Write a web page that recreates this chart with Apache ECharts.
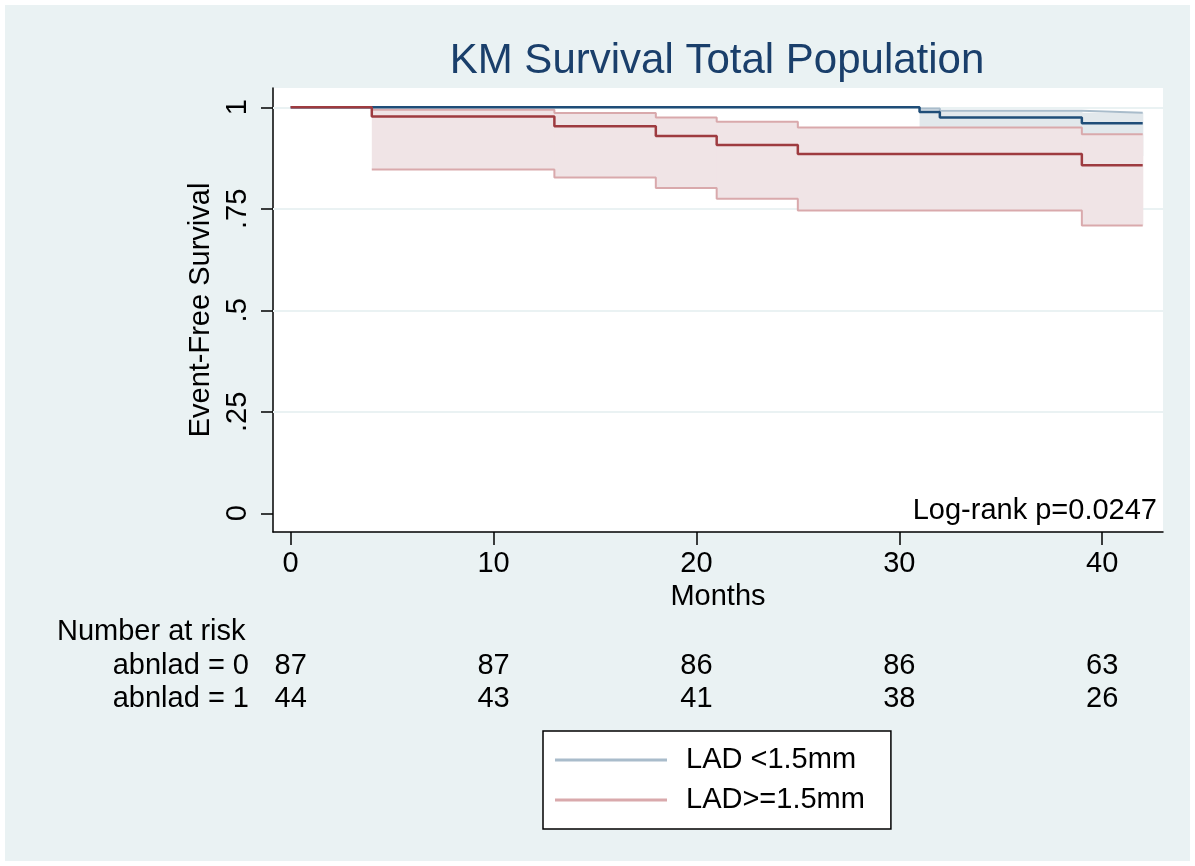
<!DOCTYPE html>
<html>
<head>
<meta charset="utf-8">
<script src="https://cdn.jsdelivr.net/npm/echarts@6/dist/echarts.min.js"></script>
<style>
html,body{margin:0;padding:0;background:#fff;}
#bg{position:absolute;left:5px;top:5px;width:1185px;height:856px;background:#eaf2f3;}
#main{position:absolute;left:0;top:0;width:1195px;height:866px;}
</style>
</head>
<body>
<div id="bg"></div>
<div id="main"></div>
<script>
// ---- data ----
const titleText = 'KM Survival Total Population';
const xTicks = [0, 10, 20, 30, 40];
const yTicks = [0, 0.25, 0.5, 0.75, 1];
const groupNames = ['LAD <1.5mm', 'LAD>=1.5mm'];

// group 0 (abnlad = 0)
const months0 = [0, 31, 32, 39, 42];
const surv0 = [1, 0.9885, 0.9746, 0.9606, 0.9606];
const ciMonths0 = [31, 32, 39, 42];
const ciLow0 = [0.92, 0.905, 0.88, 0.88];
const ciUp0 = [0.997, 0.9916, 0.9867, 0.9867];

// group 1 (abnlad = 1)
const months1 = [0, 4, 13, 18, 21, 25, 39, 42];
const surv1 = [1, 0.977, 0.953, 0.929, 0.907, 0.885, 0.857, 0.857];
const ciMonths1 = [4, 13, 18, 21, 25, 39, 42];
const ciLow1 = [0.847, 0.827, 0.801, 0.775, 0.746, 0.709, 0.709];
const ciUp1 = [0.994, 0.986, 0.975, 0.9645, 0.950, 0.9335, 0.9335];

// number at risk
const riskRows = ['abnlad = 0', 'abnlad = 1'];
const riskTimes = [0, 10, 20, 30, 40];
const risk0 = [87, 87, 86, 86, 63];
const risk1 = [44, 43, 41, 38, 26];

const logRankText = 'Log-rank p=0.0247';

// ---- styles ----
const FONT = '"Liberation Sans", Arial, Helvetica, sans-serif';
const FS = 29;
const blue = '#1f4d78', red = '#9e3b40';
const blueCI = '#a9bccb', redCI = '#d9a9ac';
const blueFill = '#e2e8ec', redFill = '#f0e4e6';
const xMin = -0.87, xMax = 43;
const yMin = -0.0461, yMax = 1.0475;

const pairs = (xs, ys) => xs.map((x, i) => [x, ys[i]]);

const chart = echarts.init(document.getElementById('main'), null, {renderer: 'canvas'});

function bandSeries(name, xs, lo, up, fill, z) {
  const data = [];
  for (let i = 0; i < xs.length - 1; i++) data.push([xs[i], xs[i + 1], lo[i], up[i]]);
  return {
    name: name + ' band', type: 'custom', silent: true, z: z,
    encode: {x: [0, 1], y: [2, 3]},
    data: data,
    renderItem: function (params, api) {
      const p1 = api.coord([api.value(0), api.value(3)]);
      const p2 = api.coord([api.value(1), api.value(2)]);
      return {
        type: 'rect', z2: 0,
        shape: {x: p1[0], y: p1[1], width: p2[0] - p1[0] + 0.6, height: p2[1] - p1[1]},
        style: {fill: fill, stroke: null}
      };
    }
  };
}

function ciLine(name, xs, ys, color, z) {
  return {
    name: name, type: 'line', step: 'end', symbol: 'none', silent: true,
    data: pairs(xs, ys),
    itemStyle: {color: color},
    lineStyle: {color: color, width: 2},
    z: z
  };
}

const series = [];
// gridlines (drawn beneath everything)
series.push({
  name: 'grid', type: 'line', data: [], silent: true,
  markLine: {
    silent: true, symbol: 'none', z: 1,
    label: {show: false},
    lineStyle: {color: '#eaf2f3', width: 2, type: 'solid'},
    data: yTicks.filter(v => v > 0).map(v => ({yAxis: v}))
  }
});
// group 0 band + CI lines
series.push(bandSeries('g0', ciMonths0, ciLow0, ciUp0, blueFill, 2));
series.push(ciLine(groupNames[0], ciMonths0, ciLow0, blueCI, 2.5));
series.push(ciLine('g0 upper', ciMonths0, ciUp0, blueCI, 2.5));
// group 1 band + CI lines (on top)
series.push(bandSeries('g1', ciMonths1, ciLow1, ciUp1, redFill, 3));
series.push(ciLine(groupNames[1], ciMonths1, ciLow1, redCI, 3.5));
series.push(ciLine('g1 upper', ciMonths1, ciUp1, redCI, 3.5));
// survival lines
series.push({
  name: 'abnlad = 0', type: 'line', step: 'end', symbol: 'none',
  data: pairs(months0, surv0),
  itemStyle: {color: blue}, lineStyle: {color: blue, width: 2.5}, z: 5
});
series.push({
  name: 'abnlad = 1', type: 'line', step: 'end', symbol: 'none',
  data: pairs(months1, surv1),
  itemStyle: {color: red}, lineStyle: {color: red, width: 2.5}, z: 5.5
});
// numbers at risk
series.push({
  name: 'risk', type: 'custom', xAxisIndex: 1, yAxisIndex: 1, silent: true,
  encode: {x: 0, y: 1},
  data: riskTimes.map((t, i) => [t, 0, risk0[i]])
    .concat(riskTimes.map((t, i) => [t, 1, risk1[i]])),
  renderItem: function (params, api) {
    const p = api.coord([api.value(0), api.value(1)]);
    return {
      type: 'text', x: p[0], y: p[1],
      style: {text: String(api.value(2)), fill: '#000', font: FS + 'px ' + FONT,
              align: 'center', verticalAlign: 'middle'}
    };
  }
});

const option = {
  animation: false,
  textStyle: {fontFamily: FONT},
  graphic: [
    {type: 'text', x: 717, y: 61, style: {text: titleText, font: '42px ' + FONT, fill: '#1a3f6b',
      align: 'center', verticalAlign: 'middle', textAlign: 'center', textVerticalAlign: 'middle'}},
    {type: 'text', x: 1157, y: 511, style: {text: logRankText, font: FS + 'px ' + FONT, fill: '#000',
      align: 'right', verticalAlign: 'middle', textAlign: 'right', textVerticalAlign: 'middle'}},
    {type: 'text', x: 57, y: 632, style: {text: 'Number at risk', font: FS + 'px ' + FONT, fill: '#000',
      align: 'left', verticalAlign: 'middle', textAlign: 'left', textVerticalAlign: 'middle'}}
  ],
  legend: {
    orient: 'vertical', left: 543, top: 731,
    data: groupNames,
    icon: 'rect',
    backgroundColor: '#fff', borderColor: '#000', borderWidth: 1.5, borderRadius: 0,
    padding: [14, 26, 14, 12],
    itemWidth: 112, itemHeight: 3, itemGap: 10,
    textStyle: {fontSize: FS, color: '#000', lineHeight: 30, padding: [0, 0, 0, 14], fontFamily: FONT},
    selectedMode: false
  },
  grid: [
    {left: 273, right: 32, top: 88, bottom: 866 - 532, show: true, backgroundColor: '#fff', borderWidth: 0},
    {left: 273, right: 32, top: 649.5, height: 66, show: false}
  ],
  xAxis: [
    {
      type: 'value', gridIndex: 0, min: xMin, max: xMax,
      name: 'Months', nameLocation: 'middle', nameGap: 50,
      nameTextStyle: {fontSize: FS, color: '#000'},
      axisLine: {show: true, onZero: false, lineStyle: {color: '#000', width: 1.5}},
      axisTick: {show: true, customValues: xTicks, length: 13, lineStyle: {color: '#000', width: 1.5}},
      axisLabel: {customValues: xTicks, fontSize: FS, color: '#000', margin: 17},
      splitLine: {show: false}
    },
    {type: 'value', gridIndex: 1, min: xMin, max: xMax, show: false}
  ],
  yAxis: [
    {
      type: 'value', gridIndex: 0, min: yMin, max: yMax,
      name: 'Event-Free Survival', nameLocation: 'middle', nameGap: 53, nameRotate: 90,
      nameTextStyle: {fontSize: FS, color: '#000'},
      axisLine: {show: true, onZero: false, lineStyle: {color: '#000', width: 1.5}},
      axisTick: {show: true, customValues: yTicks, length: 12, lineStyle: {color: '#000', width: 1.5}},
      axisLabel: {customValues: yTicks, rotate: 90, fontSize: FS, color: '#000', margin: 21,
        formatter: v => (v === 0 ? '0' : v === 1 ? '1' : String(v).replace(/^0\./, '.'))},
      splitLine: {show: false}
    },
    {
      type: 'category', gridIndex: 1, data: riskRows, inverse: true,
      axisLine: {show: false}, axisTick: {show: false}, splitLine: {show: false},
      axisLabel: {fontSize: FS, color: '#000', margin: 24, interval: 0}
    }
  ],
  series: series
};
chart.setOption(option);
</script>
</body>
</html>
